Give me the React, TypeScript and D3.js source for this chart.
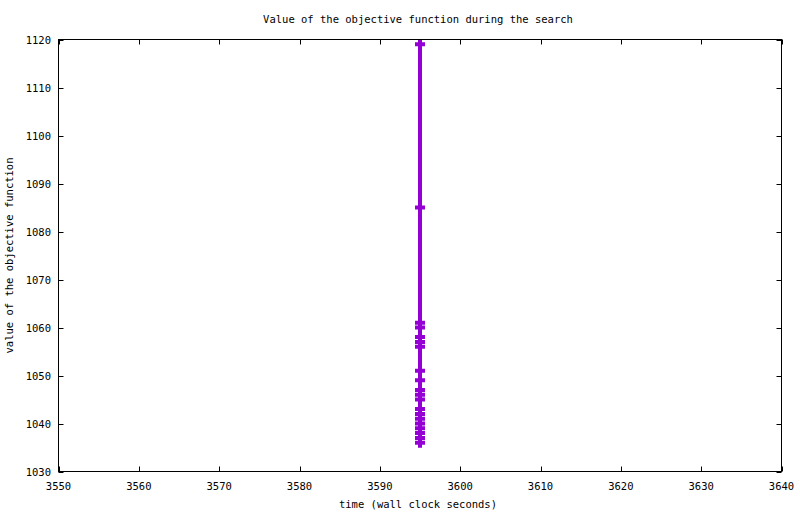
import React from "react";
import * as d3 from "d3";

const times: number[] = [3595, 3595, 3595, 3595, 3595, 3595, 3595, 3595, 3595, 3595, 3595, 3595, 3595, 3595, 3595, 3595, 3595, 3595, 3595, 3595];
const values: number[] = [1119, 1085, 1061, 1060, 1058, 1057, 1056, 1051, 1049, 1047, 1046, 1045, 1043, 1042, 1041, 1040, 1039, 1038, 1037, 1036];
const xTicks: number[] = [3550, 3560, 3570, 3580, 3590, 3600, 3610, 3620, 3630, 3640];
const yTicks: number[] = [1030, 1040, 1050, 1060, 1070, 1080, 1090, 1100, 1110, 1120];
const title = "Value of the objective function during the search";
const xLabel = "time (wall clock seconds)";
const yLabel = "value of the objective function";

const W = 800;
const H = 514;
const L = 58.5, R = 781.5, T = 39.5, B = 471.5;
const FONT = "'DejaVu Sans Mono', monospace";
const COLOR = "#9400d3";

export default function App() {
  const x = d3.scaleLinear().domain([3550, 3640]).range([L, R]);
  const y = d3.scaleLinear().domain([1030, 1120]).range([B, T]);
  const pts = times.map((t, i) => [x(t), y(values[i])] as [number, number]);
  const line = d3.line()(pts) || "";
  const tl = 5;
  return (
    <svg width={W} height={H} style={{ position: "absolute", left: 0, top: 0, background: "#fff" }}>
      <rect x={0} y={0} width={W} height={H} fill="#fff" />
      <text x={418} y={23} textAnchor="middle" fontFamily={FONT} fontSize={10.5} fill="#000">{title}</text>
      {xTicks.map((v) => (
        <g key={"x" + v}>
          <line x1={Math.round(x(v)) + 0.5} x2={Math.round(x(v)) + 0.5} y1={B} y2={B - tl} stroke="#000" />
          <line x1={Math.round(x(v)) + 0.5} x2={Math.round(x(v)) + 0.5} y1={T} y2={T + tl} stroke="#000" />
          <text x={x(v)} y={490} textAnchor="middle" fontFamily={FONT} fontSize={10.5} fill="#000">{v}</text>
        </g>
      ))}
      {yTicks.map((v) => (
        <g key={"y" + v}>
          <line x1={L} x2={L + tl} y1={Math.round(y(v)) + 0.5} y2={Math.round(y(v)) + 0.5} stroke="#000" />
          <line x1={R} x2={R - tl} y1={Math.round(y(v)) + 0.5} y2={Math.round(y(v)) + 0.5} stroke="#000" />
          <text x={51} y={y(v) + 4} textAnchor="end" fontFamily={FONT} fontSize={10.5} fill="#000">{v}</text>
        </g>
      ))}
      <text x={418} y={508} textAnchor="middle" fontFamily={FONT} fontSize={10.5} fill="#000">{xLabel}</text>
      <text transform={`translate(13,${(T + B) / 2}) rotate(-90)`} textAnchor="middle" fontFamily={FONT} fontSize={10.5} fill="#000">{yLabel}</text>
      <path d={line} fill="none" stroke={COLOR} strokeWidth={4} />
      {pts.map(([px, py], i) => (
        <path key={i} d={`M${px - 5},${py}H${px + 5}M${px},${py - 5}V${py + 5}`} stroke={COLOR} strokeWidth={4} fill="none" />
      ))}
      <rect x={L} y={T} width={R - L} height={B - T} fill="none" stroke="#000" strokeWidth={1} />
    </svg>
  );
}
